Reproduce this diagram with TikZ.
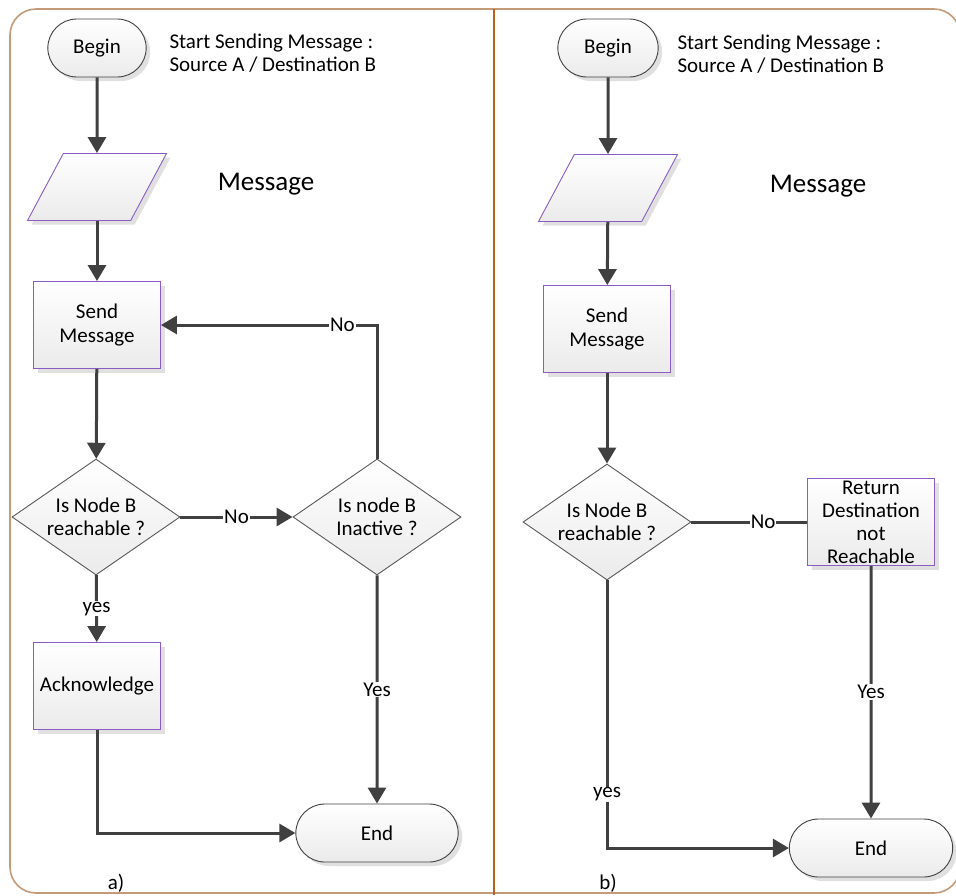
\documentclass[tikz,border=0pt]{standalone}
\usepackage{fontspec}
\setmainfont{Carlito}
\usetikzlibrary{shapes.geometric,shapes.misc,arrows.meta,shadows}
\definecolor{framebrown}{HTML}{C49A78}
\definecolor{dividerbrown}{HTML}{B4621E}
\definecolor{boxpurple}{HTML}{8B5CC4}
\definecolor{linegray}{HTML}{404040}
\tikzset{
  every node/.style={font=\fontsize{21}{23.5}\selectfont},
  boxshadow/.style={drop shadow={shadow xshift=4pt, shadow yshift=-4pt, fill=black!12, opacity=1}},
  terminal/.style={rounded rectangle, draw=linegray, line width=0.9pt, top color=white, bottom color=black!8, minimum height=58pt, boxshadow},
  inputbox/.style={trapezium, trapezium left angle=62, trapezium right angle=118, trapezium stretches=true,
    minimum width=139pt, minimum height=67pt, draw=boxpurple, line width=0.9pt, top color=white, bottom color=black!8, boxshadow},
  process/.style={rectangle, draw=boxpurple, line width=0.9pt, minimum width=127pt, minimum height=87pt, align=center,
    top color=white, bottom color=black!8, boxshadow},
  decision/.style={diamond, draw=black!65, line width=0.9pt, aspect=1.45, inner sep=0pt, minimum width=168pt, minimum height=116pt,
    align=center, top color=white, bottom color=black!8},
  flowline/.style={line width=3pt, draw=linegray, -{Triangle[length=16pt,width=18pt]}},
  plainline/.style={line width=3pt, draw=linegray},
  lbl/.style={fill=white, inner sep=1pt},
}
\begin{document}
\begin{tikzpicture}[x=1pt, y=-1pt]
  \useasboundingbox (0,0) rectangle (956,895);

  % frame and divider
  \draw[framebrown, line width=1.6pt, rounded corners=26pt] (10,9) rectangle (960,893);
  \draw[dividerbrown, line width=1.2pt] (494,9) -- (494,895);

  % a) chart
  \node[terminal, minimum width=105pt] (begA) at (97,48) {Begin};
  \node[anchor=west, align=left] (startA) at (166,53) {Start Sending Message :\\Source A / Destination B};
  \node[inputbox] (msgA) at (97,187) {};
  \node[font=\fontsize{27}{30}\selectfont] (msgtxtA) at (266,184) {Message};
  \node[process] (sendA) at (97,325) {Send\\Message};
  \node[decision] (isA) at (96,517) {Is Node B\\reachable ?};
  \node[decision] (inactA) at (377,517) {Is node B\\Inactive ?};
  \node[process] (ackA) at (97,686) {Acknowledge};
  \node[terminal, minimum width=169pt] (endA) at (377,833) {End};
  \node[anchor=base] (capA) at (116,889) {a)};

  \draw[flowline] (begA) -- (msgA);
  \draw[flowline] (msgA) -- (sendA);
  \draw[flowline] (sendA) -- (isA);
  \draw[flowline] (isA) -- node[lbl]{No} (inactA);
  \draw[flowline] (inactA.north) |- node[lbl, pos=0.58]{No} (sendA.east);
  \draw[flowline] (isA) -- node[lbl]{yes} (ackA);
  \draw[flowline] (inactA) -- node[lbl]{Yes} (endA);
  \draw[flowline] (ackA.south) |- (endA.west);

  % b) chart
  \node[terminal, minimum width=107pt] (begB) at (608,48) {Begin};
  \node[anchor=west, align=left] (startB) at (674,54) {Start Sending Message :\\Source A / Destination B};
  \node[inputbox] (msgB) at (608,188) {};
  \node[font=\fontsize{27}{30}\selectfont] (msgtxtB) at (818,186) {Message};
  \node[process] (sendB) at (607,329) {Send\\Message};
  \node[decision] (isB) at (607,522) {Is Node B\\reachable ?};
  \node[process, inner sep=0pt, font=\fontsize{21}{23}\selectfont] (retB) at (871,522) {Return\\Destination\\not\\Reachable};
  \node[terminal, minimum width=170pt] (endB) at (871,848) {End};
  \node[anchor=base] (capB) at (608,889) {b)};

  \draw[flowline] (begB) -- (msgB);
  \draw[flowline] (msgB) -- (sendB);
  \draw[flowline] (sendB) -- (isB);
  \draw[plainline] (isB) -- node[lbl, pos=0.62]{No} (retB);
  \draw[flowline] (retB) -- node[lbl]{Yes} (endB);
  \draw[flowline] (isB.south) |- node[lbl, pos=0.4]{yes} (endB.west);
\end{tikzpicture}
\end{document}
